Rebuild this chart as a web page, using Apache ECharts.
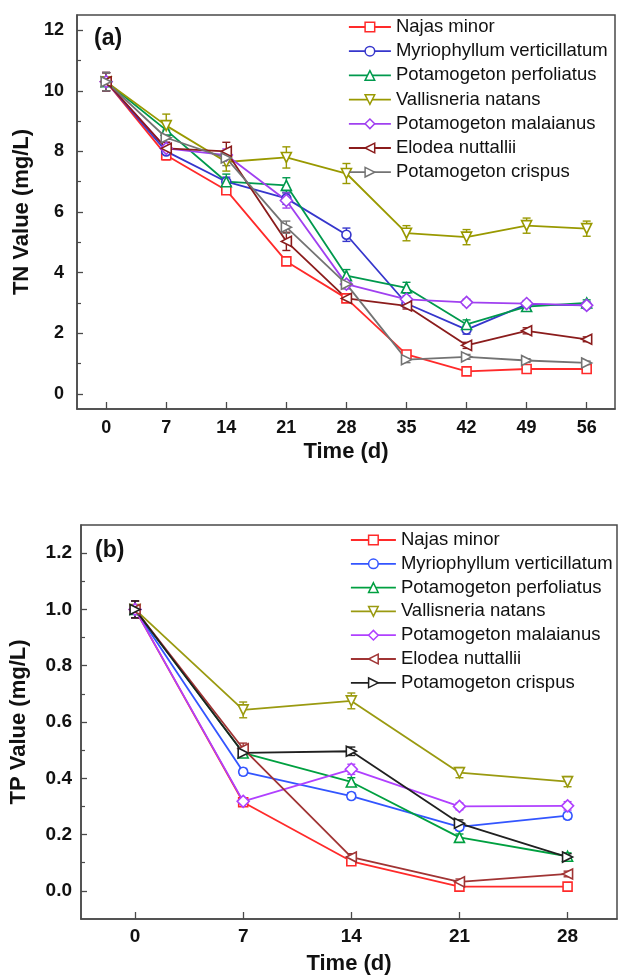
<!DOCTYPE html>
<html>
<head>
<meta charset="utf-8">
<script src="https://cdn.jsdelivr.net/npm/echarts@6/dist/echarts.min.js"></script>
<style>html,body{margin:0;padding:0;background:#fff}#c{width:621px;height:980px}</style>
</head>
<body>
<div id="c"></div>
<script>
// ---------- data ----------
const speciesNames = ['Najas minor','Myriophyllum verticillatum','Potamogeton perfoliatus','Vallisneria natans','Potamogeton malaianus','Elodea nuttallii','Potamogeton crispus'];

// Panel (a): TN
const daysA = [0,7,14,21,28,35,42,49,56];
const tnNajas    = [10.3, 7.87, 6.72, 4.37, 3.15, 1.30, 0.74, 0.82, 0.82];
const tnMyrio    = [10.3, 8.00, 7.00, 6.45, 5.25, 2.98, 2.12, 2.95, 2.92];
const tnPerfol   = [10.3, 8.70, 7.00, 6.88, 3.90, 3.50, 2.29, 2.88, 3.00];
const tnVallis   = [10.3, 8.85, 7.65, 7.80, 7.27, 5.30, 5.17, 5.55, 5.45];
const tnMalai    = [10.3, 8.10, 7.88, 6.38, 3.62, 3.12, 3.02, 2.98, 2.92];
const tnElodea   = [10.3, 8.10, 8.00, 5.03, 3.15, 2.90, 1.60, 2.08, 1.80];
const tnCrispus  = [10.3, 8.45, 7.78, 5.50, 3.62, 1.13, 1.22, 1.10, 1.02];
const tnErrNajas   = [0.30, 0.15, 0.12, 0.10, 0.10, 0.10, 0.06, 0.06, 0.06];
const tnErrMyrio   = [0.30, 0.20, 0.15, 0.20, 0.22, 0.12, 0.15, 0.10, 0.10];
const tnErrPerfol  = [0.30, 0.30, 0.25, 0.25, 0.20, 0.18, 0.15, 0.10, 0.10];
const tnErrVallis  = [0.30, 0.38, 0.30, 0.35, 0.33, 0.25, 0.25, 0.25, 0.25];
const tnErrMalai   = [0.30, 0.20, 0.20, 0.25, 0.15, 0.12, 0.10, 0.10, 0.10];
const tnErrElodea  = [0.30, 0.20, 0.30, 0.30, 0.10, 0.10, 0.10, 0.10, 0.08];
const tnErrCrispus = [0.30, 0.25, 0.25, 0.20, 0.15, 0.10, 0.08, 0.06, 0.06];
const tnTicks = [0,2,4,6,8,10,12];
const tnMinorTicks = [1,3,5,7,9,11];

// Panel (b): TP
const daysB = [0,7,14,21,28];
const tpNajas   = [1.0, 0.315, 0.105, 0.015, 0.015];
const tpMyrio   = [1.0, 0.423, 0.337, 0.227, 0.267];
const tpPerfol  = [1.0, 0.490, 0.387, 0.190, 0.123];
const tpVallis  = [1.0, 0.643, 0.675, 0.420, 0.388];
const tpMalai   = [1.0, 0.318, 0.432, 0.300, 0.302];
const tpElodea  = [1.0, 0.505, 0.120, 0.032, 0.060];
const tpCrispus = [1.0, 0.490, 0.496, 0.240, 0.120];
const tpErrNajas   = [0.03, 0.010, 0.010, 0.008, 0.008];
const tpErrMyrio   = [0.03, 0.012, 0.012, 0.012, 0.012];
const tpErrPerfol  = [0.03, 0.012, 0.015, 0.012, 0.012];
const tpErrVallis  = [0.03, 0.028, 0.028, 0.018, 0.018];
const tpErrMalai   = [0.03, 0.012, 0.018, 0.012, 0.015];
const tpErrElodea  = [0.03, 0.020, 0.012, 0.010, 0.010];
const tpErrCrispus = [0.03, 0.015, 0.015, 0.012, 0.012];
const tpTicks = [0.0,0.2,0.4,0.6,0.8,1.0,1.2];
const tpMinorTicks = [0.1,0.3,0.5,0.7,0.9,1.1];

// ---------- styling ----------
const colorsA = ['#ff2a2a','#3636cc','#00994d','#999900','#a040f0','#8b1c1c','#737373'];
const colorsB = ['#ff2a2a','#3355ff','#00a040','#9a9a10','#b040ff','#a03434','#202020'];
const symbols = ['rect','circle','triangle','path://M0,0 L10,0 L5,9 Z','diamond','path://M0,5 L9,0 L9,10 Z','path://M0,0 L9,5 L0,10 Z'];
const symSizes = [9,9,10,10,12,10,10];
const FONT = 'Arial, "Liberation Sans", sans-serif';
const AX = '#4a4a4a';
const TXT = '#111';

const tnSeries = [tnNajas,tnMyrio,tnPerfol,tnVallis,tnMalai,tnElodea,tnCrispus];
const tnErrs = [tnErrNajas,tnErrMyrio,tnErrPerfol,tnErrVallis,tnErrMalai,tnErrElodea,tnErrCrispus];
const tpSeries = [tpNajas,tpMyrio,tpPerfol,tpVallis,tpMalai,tpElodea,tpCrispus];
const tpErrs = [tpErrNajas,tpErrMyrio,tpErrPerfol,tpErrVallis,tpErrMalai,tpErrElodea,tpErrCrispus];

function errRender(color){
  return function(params, api){
    const x = api.value(0), y = api.value(1), e = api.value(2);
    const hi = api.coord([x, y + e]);
    const lo = api.coord([x, y - e]);
    const w = 4;
    const st = {stroke: color, lineWidth: 1.4, fill: null};
    return {type:'group', children:[
      {type:'line', shape:{x1:hi[0],y1:hi[1],x2:lo[0],y2:lo[1]}, style:st},
      {type:'line', shape:{x1:hi[0]-w,y1:hi[1],x2:hi[0]+w,y2:hi[1]}, style:st},
      {type:'line', shape:{x1:lo[0]-w,y1:lo[1],x2:lo[0]+w,y2:lo[1]}, style:st}
    ]};
  };
}

function buildSeries(days, vals, errs, colors, gi){
  const out = [];
  vals.forEach((v, i) => {
    out.push({
      type:'custom', name:'err'+gi+'_'+i, xAxisIndex:gi, yAxisIndex:gi*2,
      renderItem: errRender(colors[i]),
      data: days.map((d,k)=>[d, v[k], errs[i][k]]),
      encode:{x:0,y:1}, silent:true, z:2
    });
  });
  vals.forEach((v, i) => {
    out.push({
      type:'line', name:speciesNames[i], xAxisIndex:gi, yAxisIndex:gi*2,
      data: days.map((d,k)=>[d, v[k]]),
      symbol: symbols[i], symbolSize: symSizes[i], showAllSymbol:true,
      lineStyle:{color:colors[i], width:1.8},
      itemStyle:{color:'#fff', borderColor:colors[i], borderWidth:1.6},
      emphasis:{disabled:true}, z:3
    });
  });
  return out;
}

function legendFor(colors, left, top, iw, gap){
  return {
    orient:'vertical', left:left, top:top, itemWidth:iw, itemHeight:12, itemGap:gap,
    selectedMode:false, padding:0,
    textStyle:{fontFamily:FONT, fontSize:18.5, color:TXT, lineHeight:20},
    data: speciesNames.map((n,i)=>({name:n,
      itemStyle:{color:'#fff', borderColor:colors[i], borderWidth:1.5},
      lineStyle:{color:colors[i], width:1.8}}))
  };
}

function xAxisFor(gi, min, max, ticks, labelSize, margin, nameGap){
  return {
    type:'value', gridIndex:gi, min:min, max:max,
    name:'Time (d)', nameLocation:'middle', nameGap:nameGap,
    nameTextStyle:{fontFamily:FONT, fontSize:22, fontWeight:'bold', color:TXT},
    axisLine:{show:true, onZero:false, lineStyle:{color:AX, width:1.5}},
    axisTick:{show:true, inside:true, length:7, customValues:ticks, lineStyle:{color:AX, width:1.3}},
    axisLabel:{customValues:ticks, fontFamily:FONT, fontSize:labelSize, fontWeight:'bold', color:TXT, margin:margin},
    splitLine:{show:false}
  };
}

function yAxesFor(gi, min, max, ticks, minor, name, labelSize, margin, nameGap, fmt){
  return [{
    type:'value', gridIndex:gi, position:'left', min:min, max:max,
    name:name, nameLocation:'middle', nameGap:nameGap,
    nameTextStyle:{fontFamily:FONT, fontSize:22, fontWeight:'bold', color:TXT},
    axisLine:{show:true, onZero:false, lineStyle:{color:AX, width:1.5}},
    axisTick:{show:true, inside:true, length:6, customValues:ticks, lineStyle:{color:AX, width:1.3}},
    axisLabel:{customValues:ticks, fontFamily:FONT, fontSize:labelSize, fontWeight:'bold', color:TXT, margin:margin, formatter:fmt},
    splitLine:{show:false}
  },{
    type:'value', gridIndex:gi, position:'left', min:min, max:max,
    axisLine:{show:false, onZero:false},
    axisTick:{show:true, inside:true, length:4, customValues:minor, lineStyle:{color:AX, width:1.2}},
    axisLabel:{show:false},
    splitLine:{show:false}
  }];
}

const chart = echarts.init(document.getElementById('c'), null, {renderer:'canvas'});
const option = {
  animation:false,
  backgroundColor:'#fff',
  grid:[
    {left:77, top:15, width:538, height:394, show:true, borderColor:AX, borderWidth:1.5, backgroundColor:'transparent'},
    {left:80, top:525, width:537, height:394, show:true, borderColor:AX, borderWidth:1.5, backgroundColor:'transparent'}
  ],
  xAxis:[
    xAxisFor(0, -3.4, 59.3, daysA, 18, 10, 32),
    xAxisFor(1, -3.5, 31.2, daysB, 19, 8, 34)
  ],
  yAxis: [].concat(
    yAxesFor(0, -0.5, 12.5, tnTicks, tnMinorTicks, 'TN Value (mg/L)', 18, 13, 43, v => String(v)),
    yAxesFor(1, -0.1, 1.3, tpTicks, tpMinorTicks, 'TP Value (mg/L)', 19, 9, 51, v => Number(v).toFixed(1))
  ),
  legend:[ legendFor(colorsA, 348, 17, 42, 4.2), legendFor(colorsB, 350, 530, 45, 3.8) ],
  graphic:[
    {type:'text', left:94, top:27, style:{text:'(a)', fontFamily:FONT, fontSize:23, fontWeight:'bold', fill:TXT}, z:10},
    {type:'text', left:95, top:539, style:{text:'(b)', fontFamily:FONT, fontSize:23, fontWeight:'bold', fill:TXT}, z:10}
  ],
  series: [].concat(
    buildSeries(daysA, tnSeries, tnErrs, colorsA, 0),
    buildSeries(daysB, tpSeries, tpErrs, colorsB, 1)
  )
};
chart.setOption(option);
</script>
</body>
</html>
